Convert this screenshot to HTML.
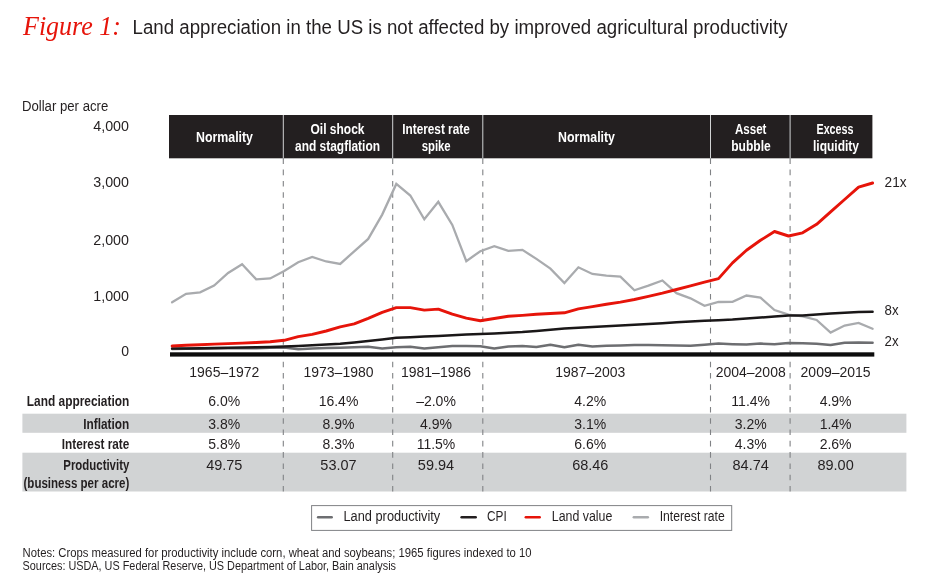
<!DOCTYPE html>
<html><head><meta charset="utf-8"><title>Figure 1</title>
<style>
html,body{margin:0;padding:0;background:#fff;}
svg{display:block;font-family:"Liberation Sans", sans-serif;}
</style></head>
<body>
<svg width="950" height="588" viewBox="0 0 950 588">
<rect width="950" height="588" fill="#ffffff"/>
<rect x="22.4" y="413.7" width="884" height="19.1" fill="#d1d3d4"/>
<rect x="22.4" y="452.7" width="884" height="38.8" fill="#d1d3d4"/>
<rect x="169" y="115" width="703.4" height="43.3" fill="#231f20"/>
<line x1="283.3" y1="115" x2="283.3" y2="158.3" stroke="#d1d3d4" stroke-width="1"/>
<line x1="283.3" y1="158.3" x2="283.3" y2="491.5" stroke="#808285" stroke-width="1.1" stroke-dasharray="5.6 5.7"/>
<line x1="392.7" y1="115" x2="392.7" y2="158.3" stroke="#d1d3d4" stroke-width="1"/>
<line x1="392.7" y1="158.3" x2="392.7" y2="491.5" stroke="#808285" stroke-width="1.1" stroke-dasharray="5.6 5.7"/>
<line x1="482.8" y1="115" x2="482.8" y2="158.3" stroke="#d1d3d4" stroke-width="1"/>
<line x1="482.8" y1="158.3" x2="482.8" y2="491.5" stroke="#808285" stroke-width="1.1" stroke-dasharray="5.6 5.7"/>
<line x1="710.5" y1="115" x2="710.5" y2="158.3" stroke="#d1d3d4" stroke-width="1"/>
<line x1="710.5" y1="158.3" x2="710.5" y2="491.5" stroke="#808285" stroke-width="1.1" stroke-dasharray="5.6 5.7"/>
<line x1="790.1" y1="115" x2="790.1" y2="158.3" stroke="#d1d3d4" stroke-width="1"/>
<line x1="790.1" y1="158.3" x2="790.1" y2="491.5" stroke="#808285" stroke-width="1.1" stroke-dasharray="5.6 5.7"/>
<polyline points="172.1,302.3 186.1,293.8 200.1,292.3 214.1,285.6 228.1,273.0 242.1,264.3 256.2,279.3 270.2,278.4 284.2,271.0 298.2,262.2 312.2,257.0 326.2,261.5 340.2,263.9 354.2,251.3 368.2,238.9 382.2,214.6 396.3,183.9 410.3,195.5 424.3,219.3 438.3,201.8 452.3,224.9 466.3,261.1 480.3,251.2 494.3,246.1 508.3,250.9 522.4,249.9 536.4,258.9 550.4,268.6 564.4,283.0 578.4,267.3 592.4,274.0 606.4,275.7 620.4,276.6 634.4,290.3 648.4,285.6 662.4,280.5 676.5,293.2 690.5,298.3 704.5,305.8 718.5,302.0 732.5,301.8 746.5,295.5 760.5,297.6 774.5,310.0 788.5,314.6 802.6,316.3 816.6,320.0 830.6,332.5 844.6,325.5 858.6,322.9 872.6,328.8" fill="none" stroke="#a9abae" stroke-width="2.3" stroke-linejoin="miter" stroke-linecap="round"/>
<polyline points="172.1,349.0 186.1,348.8 200.1,348.7 214.1,348.5 228.1,348.3 242.1,348.2 256.2,348.3 270.2,347.7 284.2,347.5 298.2,349.2 312.2,348.4 326.2,348.0 340.2,347.7 354.2,347.3 368.2,346.8 382.2,348.4 396.3,347.3 410.3,346.8 424.3,348.5 438.3,347.2 452.3,346.0 466.3,346.1 480.3,346.2 494.3,348.6 508.3,346.5 522.4,346.0 536.4,346.9 550.4,344.8 564.4,347.3 578.4,344.8 592.4,346.6 606.4,345.8 620.4,345.4 634.4,344.9 648.4,345.1 662.4,345.3 676.5,345.5 690.5,345.8 704.5,344.8 718.5,343.6 732.5,344.2 746.5,344.5 760.5,343.6 774.5,344.3 788.5,343.1 802.6,343.3 816.6,343.7 830.6,345.1 844.6,342.8 858.6,342.4 872.6,342.7" fill="none" stroke="#6d6e71" stroke-width="2.5" stroke-linejoin="round" stroke-linecap="round"/>
<polyline points="172.1,348.6 186.1,348.4 200.1,348.2 214.1,348.0 228.1,347.8 242.1,347.5 256.2,347.2 270.2,346.9 284.2,346.6 298.2,346.0 312.2,345.3 326.2,344.6 340.2,343.8 354.2,342.4 368.2,340.9 382.2,339.4 396.3,337.8 410.3,337.2 424.3,336.6 438.3,335.9 452.3,335.2 466.3,334.6 480.3,334.1 494.3,333.4 508.3,332.7 522.4,332.0 536.4,330.9 550.4,329.7 564.4,328.6 578.4,327.8 592.4,327.0 606.4,326.2 620.4,325.5 634.4,324.7 648.4,324.0 662.4,323.2 676.5,322.3 690.5,321.5 704.5,320.8 718.5,320.2 732.5,319.6 746.5,318.6 760.5,317.5 774.5,316.5 788.5,315.6 802.6,315.4 816.6,314.4 830.6,313.5 844.6,312.8 858.6,312.0 872.6,311.8" fill="none" stroke="#1a1718" stroke-width="2.5" stroke-linejoin="round" stroke-linecap="round"/>
<polyline points="172.1,346.0 186.1,345.3 200.1,344.7 214.1,344.1 228.1,343.6 242.1,343.1 256.2,342.5 270.2,341.7 284.2,340.3 298.2,336.6 312.2,334.4 326.2,331.0 340.2,326.8 354.2,323.9 368.2,318.3 382.2,312.3 396.3,307.6 410.3,307.6 424.3,310.1 438.3,309.1 452.3,314.2 466.3,318.1 480.3,320.7 494.3,318.5 508.3,316.3 522.4,315.4 536.4,314.2 550.4,313.5 564.4,312.8 578.4,308.9 592.4,306.6 606.4,304.3 620.4,302.1 634.4,299.5 648.4,296.3 662.4,293.1 676.5,289.5 690.5,285.9 704.5,282.2 718.5,278.6 732.5,262.9 746.5,250.2 760.5,240.3 774.5,231.5 788.5,236.0 802.6,232.8 816.6,224.3 830.6,211.8 844.6,199.5 858.6,187.2 872.6,183.0" fill="none" stroke="#e6140a" stroke-width="2.9" stroke-linejoin="round" stroke-linecap="round"/>
<rect x="170" y="352.3" width="704.3" height="4.3" fill="#0d0d0d"/>
<text x="23" y="34.6" font-family='"Liberation Serif", serif' font-style="italic" font-size="27" fill="#e6140a" textLength="98" lengthAdjust="spacingAndGlyphs">Figure 1:</text>
<text x="132.5" y="34.1" font-size="19.5" text-anchor="start" font-weight="normal" fill="#231f20" textLength="655" lengthAdjust="spacingAndGlyphs">Land appreciation in the US is not affected by improved agricultural productivity</text>
<text x="21.9" y="110.7" font-size="14" text-anchor="start" font-weight="normal" fill="#231f20" textLength="86.4" lengthAdjust="spacingAndGlyphs">Dollar per acre</text>
<text x="129" y="130.8" font-size="14" text-anchor="end" font-weight="normal" fill="#231f20" textLength="35.7" lengthAdjust="spacingAndGlyphs">4,000</text>
<text x="129" y="187.3" font-size="14" text-anchor="end" font-weight="normal" fill="#231f20" textLength="35.7" lengthAdjust="spacingAndGlyphs">3,000</text>
<text x="129" y="244.5" font-size="14" text-anchor="end" font-weight="normal" fill="#231f20" textLength="35.7" lengthAdjust="spacingAndGlyphs">2,000</text>
<text x="129" y="301.0" font-size="14" text-anchor="end" font-weight="normal" fill="#231f20" textLength="35.7" lengthAdjust="spacingAndGlyphs">1,000</text>
<text x="129" y="355.5" font-size="14" text-anchor="end" font-weight="normal" fill="#231f20">0</text>
<text x="224.5" y="142" font-size="14" text-anchor="middle" font-weight="bold" fill="#ffffff" textLength="57" lengthAdjust="spacingAndGlyphs">Normality</text>
<text x="337.5" y="133.8" font-size="14" text-anchor="middle" font-weight="bold" fill="#ffffff" textLength="54" lengthAdjust="spacingAndGlyphs">Oil shock</text>
<text x="337.5" y="150.5" font-size="14" text-anchor="middle" font-weight="bold" fill="#ffffff" textLength="85" lengthAdjust="spacingAndGlyphs">and stagflation</text>
<text x="436" y="133.8" font-size="14" text-anchor="middle" font-weight="bold" fill="#ffffff" textLength="67.5" lengthAdjust="spacingAndGlyphs">Interest rate</text>
<text x="436.2" y="150.5" font-size="14" text-anchor="middle" font-weight="bold" fill="#ffffff" textLength="29" lengthAdjust="spacingAndGlyphs">spike</text>
<text x="586.5" y="142" font-size="14" text-anchor="middle" font-weight="bold" fill="#ffffff" textLength="57" lengthAdjust="spacingAndGlyphs">Normality</text>
<text x="750.7" y="133.8" font-size="14" text-anchor="middle" font-weight="bold" fill="#ffffff" textLength="31.5" lengthAdjust="spacingAndGlyphs">Asset</text>
<text x="751" y="150.5" font-size="14" text-anchor="middle" font-weight="bold" fill="#ffffff" textLength="39.5" lengthAdjust="spacingAndGlyphs">bubble</text>
<text x="835" y="133.8" font-size="14" text-anchor="middle" font-weight="bold" fill="#ffffff" textLength="37" lengthAdjust="spacingAndGlyphs">Excess</text>
<text x="836" y="150.5" font-size="14" text-anchor="middle" font-weight="bold" fill="#ffffff" textLength="46" lengthAdjust="spacingAndGlyphs">liquidity</text>
<text x="884.6" y="186.9" font-size="14" text-anchor="start" font-weight="normal" fill="#231f20" textLength="22" lengthAdjust="spacingAndGlyphs">21x</text>
<text x="884.6" y="315.2" font-size="14" text-anchor="start" font-weight="normal" fill="#231f20" textLength="14" lengthAdjust="spacingAndGlyphs">8x</text>
<text x="884.6" y="346" font-size="14" text-anchor="start" font-weight="normal" fill="#231f20" textLength="14" lengthAdjust="spacingAndGlyphs">2x</text>
<text x="224.3" y="377.2" font-size="14" text-anchor="middle" font-weight="normal" fill="#231f20" textLength="70" lengthAdjust="spacingAndGlyphs">1965–1972</text>
<text x="338.5" y="377.2" font-size="14" text-anchor="middle" font-weight="normal" fill="#231f20" textLength="70" lengthAdjust="spacingAndGlyphs">1973–1980</text>
<text x="436" y="377.2" font-size="14" text-anchor="middle" font-weight="normal" fill="#231f20" textLength="70" lengthAdjust="spacingAndGlyphs">1981–1986</text>
<text x="590.3" y="377.2" font-size="14" text-anchor="middle" font-weight="normal" fill="#231f20" textLength="70" lengthAdjust="spacingAndGlyphs">1987–2003</text>
<text x="750.7" y="377.2" font-size="14" text-anchor="middle" font-weight="normal" fill="#231f20" textLength="70" lengthAdjust="spacingAndGlyphs">2004–2008</text>
<text x="835.6" y="377.2" font-size="14" text-anchor="middle" font-weight="normal" fill="#231f20" textLength="70" lengthAdjust="spacingAndGlyphs">2009–2015</text>
<text x="129.3" y="406" font-size="14" text-anchor="end" font-weight="bold" fill="#231f20" textLength="102.5" lengthAdjust="spacingAndGlyphs">Land appreciation</text>
<text x="224.3" y="405.6" font-size="14" text-anchor="middle" font-weight="normal" fill="#231f20">6.0%</text>
<text x="338.5" y="405.6" font-size="14" text-anchor="middle" font-weight="normal" fill="#231f20">16.4%</text>
<text x="436" y="405.6" font-size="14" text-anchor="middle" font-weight="normal" fill="#231f20">–2.0%</text>
<text x="590.3" y="405.6" font-size="14" text-anchor="middle" font-weight="normal" fill="#231f20">4.2%</text>
<text x="750.7" y="405.6" font-size="14" text-anchor="middle" font-weight="normal" fill="#231f20">11.4%</text>
<text x="835.6" y="405.6" font-size="14" text-anchor="middle" font-weight="normal" fill="#231f20">4.9%</text>
<text x="129.3" y="429" font-size="14" text-anchor="end" font-weight="bold" fill="#231f20" textLength="46" lengthAdjust="spacingAndGlyphs">Inflation</text>
<text x="224.3" y="428.6" font-size="14" text-anchor="middle" font-weight="normal" fill="#231f20">3.8%</text>
<text x="338.5" y="428.6" font-size="14" text-anchor="middle" font-weight="normal" fill="#231f20">8.9%</text>
<text x="436" y="428.6" font-size="14" text-anchor="middle" font-weight="normal" fill="#231f20">4.9%</text>
<text x="590.3" y="428.6" font-size="14" text-anchor="middle" font-weight="normal" fill="#231f20">3.1%</text>
<text x="750.7" y="428.6" font-size="14" text-anchor="middle" font-weight="normal" fill="#231f20">3.2%</text>
<text x="835.6" y="428.6" font-size="14" text-anchor="middle" font-weight="normal" fill="#231f20">1.4%</text>
<text x="129.3" y="448.9" font-size="14" text-anchor="end" font-weight="bold" fill="#231f20" textLength="67.5" lengthAdjust="spacingAndGlyphs">Interest rate</text>
<text x="224.3" y="448.5" font-size="14" text-anchor="middle" font-weight="normal" fill="#231f20">5.8%</text>
<text x="338.5" y="448.5" font-size="14" text-anchor="middle" font-weight="normal" fill="#231f20">8.3%</text>
<text x="436" y="448.5" font-size="14" text-anchor="middle" font-weight="normal" fill="#231f20">11.5%</text>
<text x="590.3" y="448.5" font-size="14" text-anchor="middle" font-weight="normal" fill="#231f20">6.6%</text>
<text x="750.7" y="448.5" font-size="14" text-anchor="middle" font-weight="normal" fill="#231f20">4.3%</text>
<text x="835.6" y="448.5" font-size="14" text-anchor="middle" font-weight="normal" fill="#231f20">2.6%</text>
<text x="129.3" y="470.3" font-size="14" text-anchor="end" font-weight="bold" fill="#231f20" textLength="66" lengthAdjust="spacingAndGlyphs">Productivity</text>
<text x="224.3" y="469.9" font-size="14" text-anchor="middle" font-weight="normal" fill="#231f20" textLength="36.3" lengthAdjust="spacingAndGlyphs">49.75</text>
<text x="338.5" y="469.9" font-size="14" text-anchor="middle" font-weight="normal" fill="#231f20" textLength="36.3" lengthAdjust="spacingAndGlyphs">53.07</text>
<text x="436" y="469.9" font-size="14" text-anchor="middle" font-weight="normal" fill="#231f20" textLength="36.3" lengthAdjust="spacingAndGlyphs">59.94</text>
<text x="590.3" y="469.9" font-size="14" text-anchor="middle" font-weight="normal" fill="#231f20" textLength="36.3" lengthAdjust="spacingAndGlyphs">68.46</text>
<text x="750.7" y="469.9" font-size="14" text-anchor="middle" font-weight="normal" fill="#231f20" textLength="36.3" lengthAdjust="spacingAndGlyphs">84.74</text>
<text x="835.6" y="469.9" font-size="14" text-anchor="middle" font-weight="normal" fill="#231f20" textLength="36.3" lengthAdjust="spacingAndGlyphs">89.00</text>
<text x="129.3" y="487.7" font-size="14" text-anchor="end" font-weight="bold" fill="#231f20" textLength="105.8" lengthAdjust="spacingAndGlyphs">(business per acre)</text>
<rect x="311.6" y="505.6" width="420.1" height="24.8" fill="#ffffff" stroke="#808285" stroke-width="1"/>
<line x1="318.1" y1="517.2" x2="331.7" y2="517.2" stroke="#6d6e71" stroke-width="2.5" stroke-linecap="round"/>
<text x="343.5" y="521" font-size="14" text-anchor="start" font-weight="normal" fill="#231f20" textLength="96.7" lengthAdjust="spacingAndGlyphs">Land productivity</text>
<line x1="461.6" y1="517.2" x2="475.7" y2="517.2" stroke="#231f20" stroke-width="2.5" stroke-linecap="round"/>
<text x="487" y="521" font-size="14" text-anchor="start" font-weight="normal" fill="#231f20" textLength="19.7" lengthAdjust="spacingAndGlyphs">CPI</text>
<line x1="525.8" y1="517.2" x2="539.7" y2="517.2" stroke="#e6140a" stroke-width="2.5" stroke-linecap="round"/>
<text x="551.8" y="521" font-size="14" text-anchor="start" font-weight="normal" fill="#231f20" textLength="60.6" lengthAdjust="spacingAndGlyphs">Land value</text>
<line x1="633.8" y1="517.2" x2="647.8" y2="517.2" stroke="#a9abae" stroke-width="2.5" stroke-linecap="round"/>
<text x="659.7" y="521" font-size="14" text-anchor="start" font-weight="normal" fill="#231f20" textLength="65" lengthAdjust="spacingAndGlyphs">Interest rate</text>
<text x="22.6" y="556.5" font-size="12" text-anchor="start" font-weight="normal" fill="#231f20" textLength="509" lengthAdjust="spacingAndGlyphs">Notes: Crops measured for productivity include corn, wheat and soybeans; 1965 figures indexed to 10</text>
<text x="22.6" y="570.4" font-size="12" text-anchor="start" font-weight="normal" fill="#231f20" textLength="373.4" lengthAdjust="spacingAndGlyphs">Sources: USDA, US Federal Reserve, US Department of Labor, Bain analysis</text>
</svg>
</body></html>
